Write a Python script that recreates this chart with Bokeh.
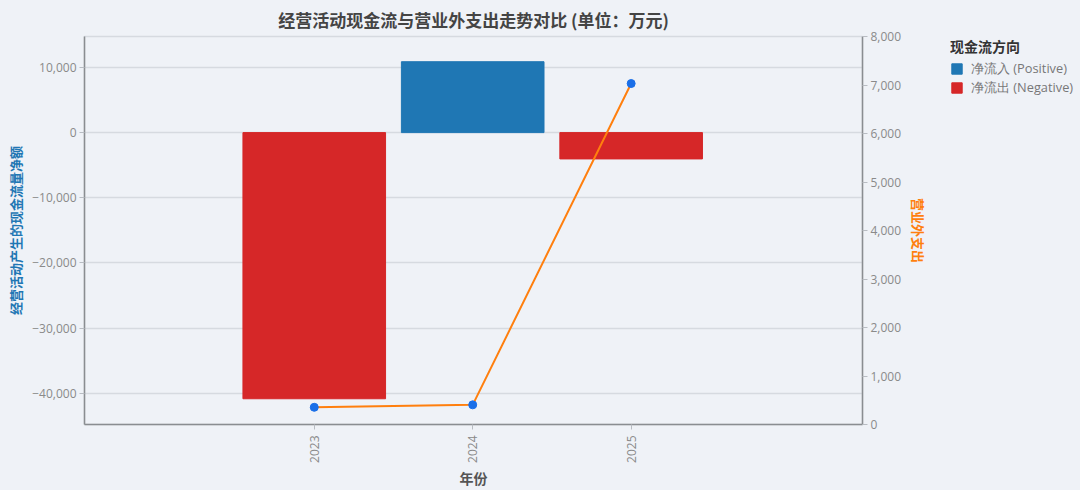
import math
from bokeh.plotting import figure
from bokeh.layouts import row
from bokeh.models import (Range1d, LinearAxis, FixedTicker, SingleIntervalTicker,
                          CustomJSTickFormatter, Legend, LegendItem)
from bokeh.embed import file_html
from bokeh.resources import INLINE

# ---- data ----
years = [2023, 2024, 2025]
cash_flow = [-40850, 10880, -4040]          # 经营活动产生的现金流量净额 (万元)
non_op_expense = [355, 405, 7030]           # 营业外支出 (万元)
legend_labels = ["净流入 (Positive)", "净流出 (Negative)"]
legend_title = "现金流方向"
title_text = "经营活动现金流与营业外支出走势对比 (单位：万元)"

BG = "#eff2f7"
GRID = "#d6dae0"
AXIS = "#8a8d91"
TICK_TXT = "#8a8a8a"
BLUE = "#1f77b4"
RED = "#d62728"
ORANGE = "#ff7f0e"
MARK = "#1a6fe8"
FONT = "Open Sans"
CJK = "Noto Sans CJK SC"

pos_x = [y for y, v in zip(years, cash_flow) if v >= 0]
pos_v = [v for v in cash_flow if v >= 0]
neg_x = [y for y, v in zip(years, cash_flow) if v < 0]
neg_v = [v for v in cash_flow if v < 0]

p = figure(frame_width=778, frame_height=388, output_backend="svg", toolbar_location=None,
           x_range=Range1d(2021.55, 2026.46), y_range=Range1d(-44800, 14750),
           min_border_left=84, min_border_right=76, min_border_top=36, min_border_bottom=64,
           background_fill_color=BG, border_fill_color=BG)
p.extra_y_ranges = {"right": Range1d(0, 8000)}

p.title.text = title_text
p.title.align = "center"
p.title.vertical_align = "top"
p.title.text_font = CJK
p.title.text_font_size = "17px"
p.title.text_font_style = "bold"
p.title.text_color = "#444444"
p.title.offset = 0
p.title.standoff = 6

p.outline_line_color = GRID
p.outline_line_width = 1.5

fmt = CustomJSTickFormatter(code="return Math.round(tick).toLocaleString('en-US').replace('-', '\u2212');")

ya = p.yaxis[0]
ya.ticker = SingleIntervalTicker(interval=10000)
ya.formatter = fmt
ya.axis_label = "经营活动产生的现金流量净额"
ya.axis_label_text_color = BLUE
ya.axis_label_text_font = CJK
ya.axis_label_text_font_size = "13px"
ya.axis_label_text_font_style = "bold"
ya.axis_label_standoff = 4

xa = p.xaxis[0]
xa.ticker = FixedTicker(ticks=years)
xa.major_label_orientation = math.pi / 2
xa.axis_label = "年份"
xa.axis_label_text_font = CJK
xa.axis_label_text_font_size = "14px"
xa.axis_label_text_font_style = "bold"
xa.axis_label_text_color = "#555555"

ra = LinearAxis(y_range_name="right", ticker=SingleIntervalTicker(interval=1000), formatter=fmt,
                axis_label="营业外支出")
ra.axis_label_text_color = ORANGE
ra.axis_label_text_font = CJK
ra.axis_label_text_font_size = "13px"
ra.axis_label_text_font_style = "bold"
ra.axis_label_standoff = 5
p.add_layout(ra, "right")

for ax in [ya, xa, ra]:
    ax.axis_line_color = AXIS
    ax.axis_line_width = 1.5
    ax.major_tick_line_color = "#b8bcc2"
    ax.major_tick_out = 5
    ax.major_tick_in = 0
    ax.minor_tick_line_color = None
    ax.major_label_text_font = FONT
    ax.major_label_text_font_size = "12px"
    ax.major_label_text_color = TICK_TXT
    ax.major_label_standoff = 3
xa.major_label_standoff = 6
xa.axis_label_standoff = 2

p.xgrid.grid_line_color = None
p.ygrid.grid_line_color = GRID
p.ygrid.grid_line_width = 1.5

bar_style = dict(width=0.9, bottom=0)
p.vbar(x=pos_x, top=pos_v, fill_color=BLUE, line_color=BLUE, **bar_style)
p.vbar(x=neg_x, top=neg_v, fill_color=RED, line_color=RED, **bar_style)

p.line(years, non_op_expense, y_range_name="right", line_color=ORANGE, line_width=2)
p.scatter(years, non_op_expense, y_range_name="right", size=8, fill_color=MARK, line_color=MARK)

# ---- legend panel (outside the plot frame, to the right) ----
lf = figure(width=142, height=488, output_backend="svg", toolbar_location=None,
            x_axis_type=None, y_axis_type=None,
            x_range=Range1d(0, 1), y_range=Range1d(0, 1),
            min_border_left=12, min_border_top=26, min_border_right=0, min_border_bottom=0,
            background_fill_color=BG, border_fill_color=BG)
lf.outline_line_color = None
lg_pos = lf.vbar(x=pos_x, top=pos_v, fill_color=BLUE, line_color=BLUE, **bar_style)
lg_neg = lf.vbar(x=neg_x, top=neg_v, fill_color=RED, line_color=RED, **bar_style)

legend = Legend(items=[LegendItem(label=legend_labels[0], renderers=[lg_pos]),
                       LegendItem(label=legend_labels[1], renderers=[lg_neg])],
                title=legend_title, location="top_left")
legend.title_text_font = CJK
legend.title_text_font_size = "14px"
legend.title_text_font_style = "bold"
legend.title_text_color = "#333333"
legend.title_standoff = 3
legend.label_text_font = FONT
legend.label_text_font_size = "12.8px"
legend.label_text_color = "#777777"
legend.glyph_width = 13
legend.glyph_height = 13
legend.label_height = 13
legend.label_standoff = 8
legend.spacing = 0
legend.padding = 0
legend.margin = 0
legend.background_fill_alpha = 0
legend.border_line_color = None
lf.add_layout(legend, "center")

layout = row(p, lf, styles={"background-color": BG})
open("out.html", "w").write(file_html(layout, INLINE))
